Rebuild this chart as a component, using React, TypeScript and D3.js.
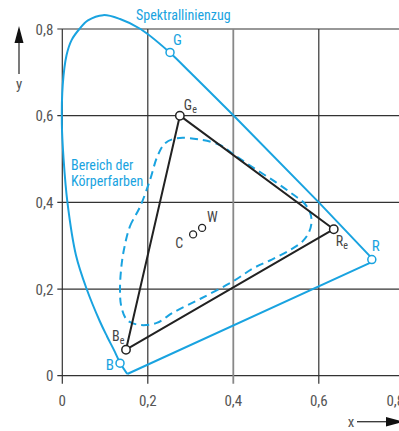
import React from "react";
import * as d3 from "d3";

// Spectral locus (curved part)
const locusCurve: [number, number][] = [
  [0.152, 0.004], [0.135, 0.03], [0.123, 0.055], [0.105, 0.09], [0.088, 0.125],
  [0.057, 0.2], [0.032, 0.278], [0.012, 0.4], [0.003, 0.5], [-0.001, 0.58],
  [0.001, 0.671], [0.01, 0.74], [0.022, 0.775], [0.04, 0.8], [0.06, 0.82],
  [0.096, 0.832], [0.135, 0.823], [0.183, 0.8], [0.25, 0.747], [0.3, 0.699], [0.4, 0.601],
];
// Straight parts: to red end, then purple line back to violet end
const locusStraight: [number, number][] = [[0.4, 0.601], [0.6, 0.4], [0.73, 0.265], [0.152, 0.004]];

// Körperfarben region (dashed)
const bodyColours: [number, number][] = [
  [0.144, 0.29], [0.158, 0.344], [0.182, 0.39], [0.205, 0.451], [0.222, 0.505],
  [0.24, 0.536], [0.268, 0.548], [0.322, 0.545], [0.37, 0.532], [0.4, 0.511],
  [0.45, 0.478], [0.5, 0.446], [0.54, 0.418], [0.565, 0.399], [0.579, 0.378],
  [0.583, 0.355], [0.577, 0.331], [0.562, 0.31], [0.533, 0.29], [0.49, 0.268],
  [0.447, 0.248], [0.4, 0.218], [0.322, 0.177], [0.26, 0.146], [0.221, 0.122],
  [0.182, 0.117], [0.152, 0.128], [0.138, 0.16], [0.135, 0.2], [0.138, 0.25],
];

// Gamut triangle
const gamutNames = ["G", "R", "B"];
const gamut: [number, number][] = [[0.275, 0.6], [0.635, 0.338], [0.149, 0.06]];

// Marked points on locus
const locusMarkNames = ["G", "R", "B"];
const locusMarks: [number, number][] = [[0.252, 0.746], [0.724, 0.268], [0.135, 0.029]];

// White points
const whiteNames = ["C", "W"];
const whitePoints: [number, number][] = [[0.306, 0.326], [0.327, 0.341]];

const ticks = [0, 0.2, 0.4, 0.6, 0.8];
const tickLabels = ["0", "0,2", "0,4", "0,6", "0,8"];

const BLUE = "#19a3e0";
const DARK = "#222";
const FONT = "'Liberation Sans Narrow', 'Arial Narrow', 'Roboto Condensed', sans-serif";

export default function App() {
  const x = d3.scaleLinear().domain([0, 0.8]).range([62.3, 404.3]);
  const y = d3.scaleLinear().domain([0, 0.8]).range([375.7, 29]);

  const curveGen = d3.line<[number, number]>().x((d) => x(d[0])).y((d) => y(d[1])).curve(d3.curveCatmullRom.alpha(0.5));
  const straightGen = d3.line<[number, number]>().x((d) => x(d[0])).y((d) => y(d[1]));
  const closedGen = d3.line<[number, number]>().x((d) => x(d[0])).y((d) => y(d[1])).curve(d3.curveCatmullRomClosed.alpha(0.5));

  const gridColor = "#333";
  const gamutClosed = [...gamut, gamut[0]];

  const whiteLabelPos = [
    { dx: -10, dy: 14, anchor: "end" },
    { dx: 5, dy: -6, anchor: "start" },
  ];
  const gamutLabelPos = [
    { dx: 4, dy: -6 },
    { dx: 2, dy: 17 },
    { dx: -14, dy: -9 },
  ];
  const markLabelPos = [
    { dx: 3, dy: -7, anchor: "start" },
    { dx: 0, dy: -9, anchor: "start" },
    { dx: -6, dy: 7, anchor: "end" },
  ];

  return (
    <svg width={399} height={431} style={{ position: "absolute", left: 0, top: 0, background: "#fff" }} fontFamily={FONT}>
      {/* grid */}
      {ticks.map((t, i) => (
        <line key={"h" + i} x1={x(0) - 5} x2={x(0.8)} y1={y(t)} y2={y(t)} stroke={gridColor} strokeWidth={1.2} />
      ))}
      {ticks.map((t, i) =>
        t === 0.8 ? null : (
          <line key={"v" + i} x1={x(t)} x2={x(t)} y1={y(0.8)} y2={y(0) + 8}
            stroke={t === 0.4 ? "#888" : gridColor} strokeWidth={t === 0.4 ? 1.8 : 1.2} />
        )
      )}
      {/* tick labels */}
      {ticks.map((t, i) => (
        <text key={"yl" + i} x={x(0) - 9} y={y(t) + 5.5} textAnchor="end" fontSize={15} fill="#555">{tickLabels[i]}</text>
      ))}
      {ticks.map((t, i) => (
        <text key={"xl" + i} x={x(t) - (t === 0.8 ? 9 : 0)} y={y(0) + 30} textAnchor="middle" fontSize={15} fill="#555">{tickLabels[i]}</text>
      ))}
      {/* axis arrows */}
      <line x1={19} x2={19} y1={42} y2={74} stroke="#333" strokeWidth={1.3} />
      <path d="M19,26 L14.5,43 L23.5,43 Z" fill="#111" />
      <text x={19} y={89} textAnchor="middle" fontSize={15} fill="#555">y</text>
      <line x1={357} x2={388} y1={421.7} y2={421.7} stroke="#333" strokeWidth={1.3} />
      <path d="M404,421.7 L386,417 L386,426.4 Z" fill="#111" />
      <text x={351} y={427} textAnchor="middle" fontSize={15} fill="#555">x</text>

      {/* locus */}
      <path d={curveGen(locusCurve) || ""} fill="none" stroke={BLUE} strokeWidth={2} />
      <path d={straightGen(locusStraight) || ""} fill="none" stroke={BLUE} strokeWidth={2} strokeLinejoin="round" />
      {/* body colours */}
      <path d={closedGen(bodyColours) || ""} fill="none" stroke={BLUE} strokeWidth={2} strokeDasharray="8 5" />
      {/* gamut triangle */}
      <path d={straightGen(gamutClosed) || ""} fill="none" stroke={DARK} strokeWidth={2} strokeLinejoin="round" />

      {/* markers */}
      {locusMarks.map((p, i) => (
        <g key={"lm" + i}>
          <circle cx={x(p[0])} cy={y(p[1])} r={4} fill="#fff" stroke={BLUE} strokeWidth={1.5} />
          <text x={x(p[0]) + markLabelPos[i].dx} y={y(p[1]) + markLabelPos[i].dy} textAnchor={markLabelPos[i].anchor} fontSize={15} fill={BLUE}>{locusMarkNames[i]}</text>
        </g>
      ))}
      {gamut.map((p, i) => (
        <g key={"gm" + i}>
          <circle cx={x(p[0])} cy={y(p[1])} r={4.2} fill="#fff" stroke={DARK} strokeWidth={1.5} />
          <text x={x(p[0]) + gamutLabelPos[i].dx} y={y(p[1]) + gamutLabelPos[i].dy} fontSize={14} fill="#444">
            {gamutNames[i]}<tspan fontSize={10} dy={3}>e</tspan>
          </text>
        </g>
      ))}
      {whitePoints.map((p, i) => (
        <g key={"wp" + i}>
          <circle cx={x(p[0])} cy={y(p[1])} r={3.5} fill="#fff" stroke={DARK} strokeWidth={1.3} />
          <text x={x(p[0]) + whiteLabelPos[i].dx} y={y(p[1]) + whiteLabelPos[i].dy} textAnchor={whiteLabelPos[i].anchor} fontSize={14} fill="#444">{whiteNames[i]}</text>
        </g>
      ))}

      {/* annotations */}
      <text x={136} y={20} fontSize={14} fill={BLUE}>Spektrallinienzug</text>
      <text x={71} y={170} fontSize={14} fill={BLUE}>Bereich der</text>
      <text x={71} y={186} fontSize={14} fill={BLUE}>Körperfarben</text>
    </svg>
  );
}
